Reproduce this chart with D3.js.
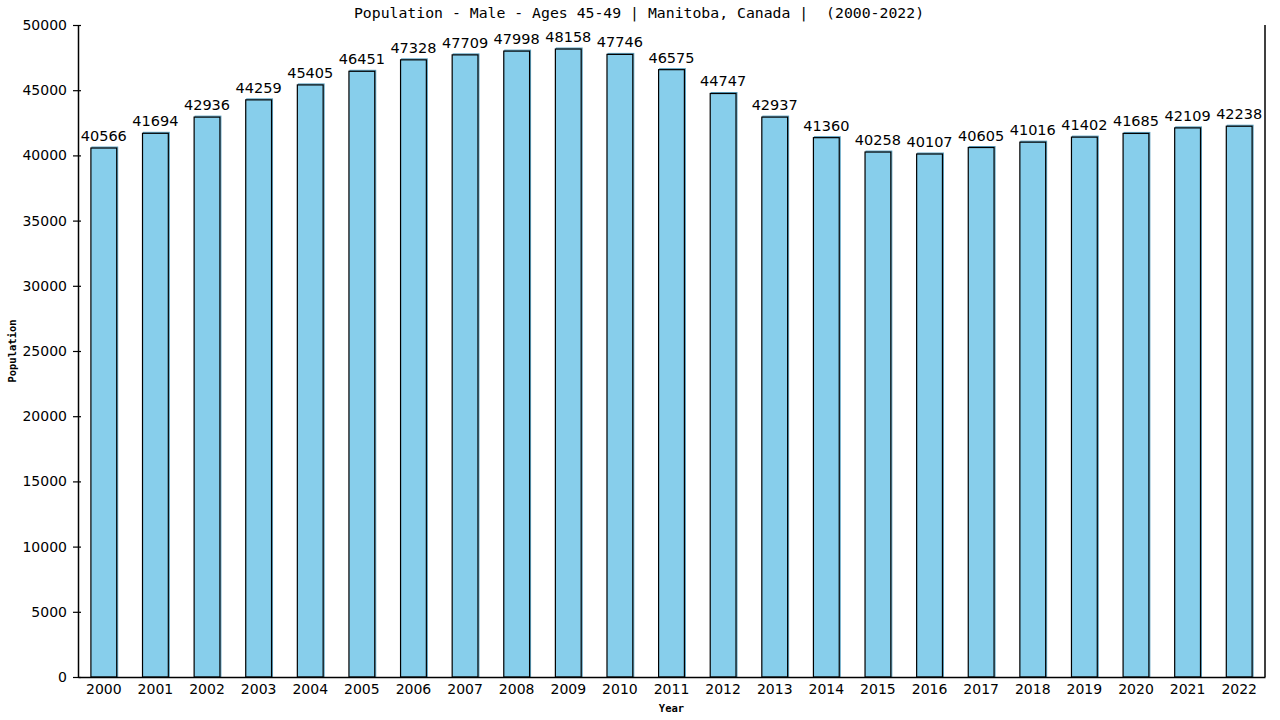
<!DOCTYPE html>
<html>
<head>
<meta charset="utf-8">
<script src="https://cdn.jsdelivr.net/npm/d3@7"></script>
<style>
  body { margin: 0; background: #fff; }
  text { fill: #000; }
</style>
</head>
<body>
<script>
var years = ["2000","2001","2002","2003","2004","2005","2006","2007","2008","2009","2010","2011",
             "2012","2013","2014","2015","2016","2017","2018","2019","2020","2021","2022"];
var population = [40566,41694,42936,44259,45405,46451,47328,47709,47998,48158,47746,46575,
                  44747,42937,41360,40258,40107,40605,41016,41402,41685,42109,42238];
var yTicks = [0,5000,10000,15000,20000,25000,30000,35000,40000,45000,50000];

var svg = d3.select("body").append("svg")
    .attr("width", 1280)
    .attr("height", 720),
    margin = {top: 25, right: 15, bottom: 43, left: 78},
    width = 1280 - margin.left - margin.right,
    height = 720 - margin.top - margin.bottom,
    g = svg.append("g").attr("transform", "translate(" + margin.left + "," + margin.top + ")");

var x = d3.scaleBand()
    .domain(years)
    .range([0, width])
    .paddingInner(0.5)
    .paddingOuter(0.25);

var y = d3.scaleLinear()
    .domain([0, 50000])
    .range([height, 0]);

// bars: light blue fill with a slight offset shade, black outline
var bars = g.selectAll(".bar")
    .data(population)
  .enter().append("g")
    .attr("class", "bar");

bars.append("rect")
    .attr("x", function(d, i) { return x(years[i]) + 1; })
    .attr("y", function(d) { return y(d) - 1; })
    .attr("width", x.bandwidth())
    .attr("height", function(d) { return height - y(d) + 1; })
    .attr("fill", "#87ceeb")
    .attr("stroke", "#5a9fbf")
    .attr("stroke-width", 1);

bars.append("rect")
    .attr("x", function(d, i) { return x(years[i]); })
    .attr("y", function(d) { return y(d); })
    .attr("width", x.bandwidth())
    .attr("height", function(d) { return height - y(d); })
    .attr("fill", "#87ceeb")
    .attr("stroke", "#000")
    .attr("stroke-width", 1.2);

bars.append("text")
    .attr("x", function(d, i) { return x(years[i]) + x.bandwidth() / 2; })
    .attr("y", function(d) { return y(d) - 7; })
    .attr("text-anchor", "middle")
    .style("font-family", "DejaVu Sans")
    .style("font-size", "14.5px")
    .text(function(d) { return d; });

// axes
var yAxis = g.append("g")
    .call(d3.axisLeft(y).tickValues(yTicks).tickSize(5).tickSizeOuter(0).tickFormat(d3.format("d")));
yAxis.select(".domain").attr("stroke", "#000").attr("stroke-width", 1.5);
yAxis.selectAll(".tick line").attr("x2", -5).attr("x1", 3).attr("stroke-width", 1.2);
yAxis.selectAll(".tick text")
    .attr("x", -11)
    .style("font-family", "DejaVu Sans")
    .style("font-size", "14px");

var xAxis = g.append("g")
    .attr("transform", "translate(0," + height + ")")
    .call(d3.axisBottom(x).tickSize(0).tickSizeOuter(0));
xAxis.select(".domain").attr("stroke", "#000").attr("stroke-width", 1.5);
xAxis.selectAll(".tick text")
    .attr("y", 7)
    .style("font-family", "DejaVu Sans")
    .style("font-size", "14px");

// right border
g.append("line")
    .attr("x1", width).attr("x2", width)
    .attr("y1", 0).attr("y2", height)
    .attr("stroke", "#000")
    .attr("stroke-width", 1.5);

// titles
svg.append("text")
    .attr("x", 639)
    .attr("y", 18)
    .attr("text-anchor", "middle")
    .style("font-family", "DejaVu Sans Mono")
    .style("font-size", "14.8px")
    .style("white-space", "pre")
    .text("Population - Male - Ages 45-49 | Manitoba, Canada |  (2000-2022)");

svg.append("text")
    .attr("transform", "translate(16," + (margin.top + height / 2) + ") rotate(-90)")
    .attr("text-anchor", "middle")
    .style("font-family", "DejaVu Sans Mono")
    .style("font-weight", "bold")
    .style("font-size", "10.5px")
    .text("Population");

svg.append("text")
    .attr("x", margin.left + width / 2)
    .attr("y", 712)
    .attr("text-anchor", "middle")
    .style("font-family", "DejaVu Sans Mono")
    .style("font-weight", "bold")
    .style("font-size", "10.5px")
    .text("Year");
</script>
</body>
</html>
